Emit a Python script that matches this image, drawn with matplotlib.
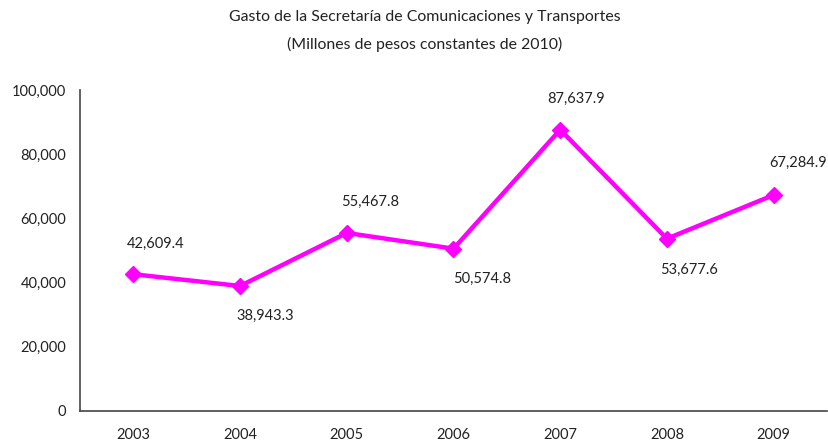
import numpy as np
import matplotlib.pyplot as plt

plt.rcParams["font.family"] = ["Lato", "DejaVu Sans"]

years = ["2003", "2004", "2005", "2006", "2007", "2008", "2009"]
gasto = [42609.4, 38943.3, 55467.8, 50574.8, 87637.9, 53677.6, 67284.9]

# label offsets in pixels (dx, dy) relative to each point, as placed in the original
label_dx = [22, 25, 23, 29, 16, 22, 24]
label_dy = [30, -30, 31, -30, 31, -31, 32]

fig = plt.figure(figsize=(8.29, 4.46), dpi=100)
ax = fig.add_axes([80 / 829, 1 - 411 / 446, 747 / 829, 321 / 446])

x = np.arange(len(years))
ax.plot(x, gasto, color="#FF00FF", linewidth=3.2, marker="D", markersize=8,
        markeredgecolor="#FF00FF", markerfacecolor="#FF00FF", clip_on=False)

px = 72 / 100  # pixels -> points
for xi, v, dx, dy in zip(x, gasto, label_dx, label_dy):
    ax.annotate(f"{v:,.1f}", (xi, v), xytext=(dx * px, dy * px),
                textcoords="offset points", ha="center", va="center",
                fontsize=10.5, color="#222222", annotation_clip=False)

ax.set_xlim(-0.5, len(years) - 0.5)
ax.set_ylim(0, 100000)
ax.set_yticks(np.arange(0, 100001, 20000))
ax.set_yticklabels([f"{t:,}" for t in range(0, 100001, 20000)])
ax.set_xticks(x)
ax.set_xticklabels(years)
ax.tick_params(length=0, labelsize=10.5, colors="#222222")
ax.tick_params(axis="x", pad=12)
ax.tick_params(axis="y", pad=10)

for s in ["top", "right"]:
    ax.spines[s].set_visible(False)
for s in ["left", "bottom"]:
    ax.spines[s].set_color("#444444")
    ax.spines[s].set_linewidth(1.2)

fig.text(425 / 829, 1 - 17 / 446, "Gasto de la Secretaría de Comunicaciones y Transportes",
         ha="center", va="center", fontsize=11.4, color="#222222")
fig.text(425 / 829, 1 - 44 / 446, "(Millones de pesos constantes de 2010)",
         ha="center", va="center", fontsize=11.4, color="#222222")

fig.savefig("out.png", dpi=100)
